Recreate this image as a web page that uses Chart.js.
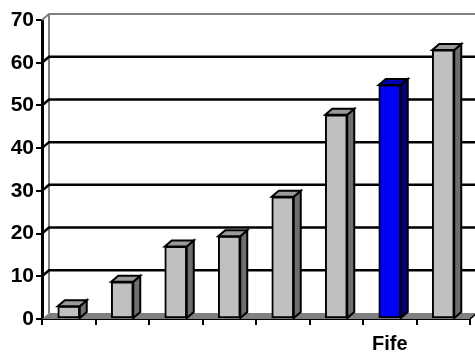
<!DOCTYPE html>
<html>
<head>
<meta charset="utf-8">
<script src="https://cdn.jsdelivr.net/npm/chart.js@4"></script>
<style>
  html, body { margin: 0; padding: 0; background: #fff; }
  canvas { display: block; }
</style>
</head>
<body>
<canvas id="chart" width="475" height="354"></canvas>
<script>
// Categories (only one is labelled on the axis)
const categories = ['', '', '', '', '', '', 'Fife', ''];
// Bar heights
const values = [3, 8.7, 17, 19.4, 28.6, 47.8, 54.8, 63];
// Value axis ticks
const yTicks = [0, 10, 20, 30, 40, 50, 60, 70];

const highlight = 'Fife';
const frontColors = categories.map(c => c === highlight ? '#0000FF' : '#C0C0C0');
const sideColors  = categories.map(c => c === highlight ? '#000080' : '#6E6E6E');
const topColors   = categories.map(c => c === highlight ? '#0000B0' : '#9A9A9A');

// depth of the 3D projection (pixels right / up)
const DX = 7, DY = 6;

const wallPlugin = {
  id: 'wall3d',
  beforeDatasetsDraw(chart) {
    const { ctx, chartArea, scales } = chart;
    const y = scales.y;
    const left = chartArea.left, right = chart.width;
    const base = y.getPixelForValue(0);
    ctx.save();
    // floor
    ctx.fillStyle = '#808080';
    ctx.beginPath();
    ctx.moveTo(left, base);
    ctx.lineTo(left + DX, base - DY);
    ctx.lineTo(chartArea.right + DX, base - DY);
    ctx.lineTo(chartArea.right, base);
    ctx.closePath();
    ctx.fill();
    ctx.strokeStyle = '#000';
    ctx.lineWidth = 1.5;
    ctx.beginPath();
    ctx.moveTo(chartArea.right, base);
    ctx.lineTo(chartArea.right + DX, base - DY);
    ctx.stroke();
    // back edge of the left wall
    const top = y.getPixelForValue(70);
    ctx.strokeStyle = '#808080';
    ctx.lineWidth = 2;
    ctx.beginPath();
    ctx.moveTo(left + DX, base - DY);
    ctx.lineTo(left + DX, top - DY);
    ctx.stroke();
    // gridlines on the back wall
    yTicks.forEach(v => {
      if (v === 0) return;
      const py = y.getPixelForValue(v);
      ctx.strokeStyle = v === 70 ? '#808080' : '#000';
      ctx.lineWidth = v === 70 ? 2 : 2.5;
      ctx.beginPath();
      ctx.moveTo(left, py);
      ctx.lineTo(left + DX, py - DY);
      ctx.lineTo(right, py - DY);
      ctx.stroke();
    });
    ctx.restore();
  },
  afterDatasetsDraw(chart) {
    const { ctx } = chart;
    const meta = chart.getDatasetMeta(0);
    ctx.save();
    ctx.lineWidth = 2;
    ctx.strokeStyle = '#000';
    ctx.lineJoin = 'miter';
    meta.data.forEach((bar, i) => {
      const l = bar.x - bar.width / 2;
      const r = bar.x + bar.width / 2;
      const t = bar.y;
      const b = bar.base;
      // side face
      ctx.fillStyle = sideColors[i];
      ctx.beginPath();
      ctx.moveTo(r, t);
      ctx.lineTo(r + DX, t - DY);
      ctx.lineTo(r + DX, b - DY);
      ctx.lineTo(r, b);
      ctx.closePath();
      ctx.fill();
      ctx.stroke();
      // top face
      ctx.fillStyle = topColors[i];
      ctx.beginPath();
      ctx.moveTo(l, t);
      ctx.lineTo(l + DX, t - DY);
      ctx.lineTo(r + DX, t - DY);
      ctx.lineTo(r, t);
      ctx.closePath();
      ctx.fill();
      ctx.stroke();
    });
    ctx.restore();
  }
};

new Chart(document.getElementById('chart'), {
  type: 'bar',
  data: {
    labels: categories,
    datasets: [{
      data: values,
      backgroundColor: frontColors,
      borderColor: '#000',
      borderWidth: 2,
      borderSkipped: false,
      barThickness: 22
    }]
  },
  options: {
    responsive: false,
    animation: false,
    events: [],
    layout: { padding: { top: 20, right: 5, bottom: 0, left: 0 } },
    plugins: { legend: { display: false }, tooltip: { enabled: false } },
    scales: {
      x: {
        offset: true,
        grid: {
          offset: true,
          drawOnChartArea: false,
          drawTicks: true,
          tickLength: 6,
          color: '#000',
          lineWidth: 2
        },
        border: { display: true, color: '#000', width: 2 },
        ticks: {
          color: '#000',
          font: { family: 'Liberation Sans, Arial, sans-serif', size: 20, weight: 'bold', lineHeight: 1 },
          padding: 9,
          maxRotation: 0,
          autoSkip: false
        },
        afterFit(scale) { scale.height = 35; }
      },
      y: {
        min: 0,
        max: 70,
        afterBuildTicks(scale) { scale.ticks = yTicks.map(v => ({ value: v })); },
        grid: {
          drawOnChartArea: false,
          drawTicks: true,
          tickLength: 6,
          color: '#000',
          lineWidth: 2
        },
        border: { display: true, color: '#000', width: 3 },
        ticks: {
          color: '#000',
          font: { family: 'Liberation Sans, Arial, sans-serif', size: 21, weight: 'bold' },
          padding: 2
        },
        afterFit(scale) { scale.width = 42; }
      }
    }
  },
  plugins: [wallPlugin]
});
</script>
</body>
</html>
